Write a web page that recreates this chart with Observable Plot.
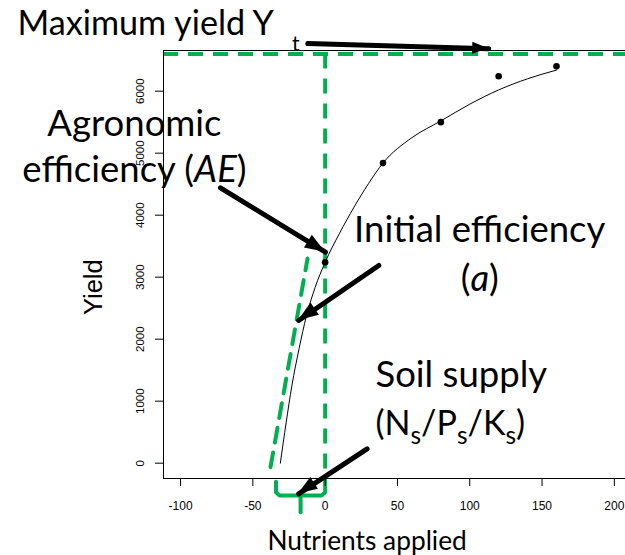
<!DOCTYPE html>
<html>
<head>
<meta charset="utf-8">
<script src="https://cdn.jsdelivr.net/npm/d3@7"></script>
<script src="https://cdn.jsdelivr.net/npm/@observablehq/plot@0.6"></script>
<style>
  html, body { margin: 0; padding: 0; background: #fff; }
  #chart { width: 625px; height: 555px; overflow: hidden; }
</style>
</head>
<body>
<div id="chart"></div>
<script>
// Observed yields at each nutrient rate
const rates = [0, 40, 80, 120, 160];
const yields = [3240, 4840, 5500, 6240, 6400];

// Fitted yield response curve
const fitRates = [-31, -27, -23, -18, -13, -7, 0, 10, 20, 30, 40, 60, 80, 100, 120, 140, 160];
const fitYields = [0, 650, 1250, 1850, 2370, 2830, 3240, 3710, 4130, 4510, 4840, 5250, 5520, 5790, 6020, 6200, 6340];

// Model quantities
const maxYield = 6600;        // Yt
const soilSupply = 34;        // Ns / Ps / Ks, in rate units
const aeRates = [-37.8, -12.2];   // agronomic efficiency guide line
const aeYields = [-65, 3300];

// Axis ticks
const xTicks = [-100, -50, 0, 50, 100, 150, 200];
const yTicks = [0, 1000, 2000, 3000, 4000, 5000, 6000];

// Call-out arrows (tail -> tip)
const arrowTailX = [-12.0, -72.4, 37.1, 29.0];
const arrowTailY = [6769, 4442, 3189, 232];
const arrowTipX = [113.1, 0.2, -18.3, -18.3];
const arrowTipY = [6684, 3403, 2302, -494];
const arrowHeadLength = [16, 20, 20, 19];
const arrowHeadWidth = [12, 15, 15, 14];

// Annotation labels
const labelText = [
  "Maximum yield Y_{t}",
  "Agronomic",
  "efficiency (*AE*)",
  "Initial efficiency",
  "(*a*)",
  "Soil supply",
  "(N_{s}/P_{s}/K_{s})"
];
const labelX = [-212.8, -131.9, -131.9, 106.9, 106.9, 34.8, 34.8];
const labelY = [6898, 5285, 4532, 3565, 2785, 1226, 447];
const labelAnchor = ["start", "middle", "middle", "middle", "middle", "start", "start"];
const labelSize = [34.2, 36.5, 36.5, 36.5, 36.5, 36.5, 34];

const green = "#00B050";
const annoFont = "Lato, 'Open Sans', sans-serif";

const points = rates.map((r, i) => ({rate: r, yield: yields[i]}));
const fit = fitRates.map((r, i) => ({rate: r, yield: fitYields[i]}));
const aeLine = aeRates.map((r, i) => ({rate: r, yield: aeYields[i]}));
const arrows = arrowTailX.map((_, i) => ({
  x1: arrowTailX[i], y1: arrowTailY[i], x2: arrowTipX[i], y2: arrowTipY[i],
  L: arrowHeadLength[i], W: arrowHeadWidth[i]
}));
const labels = labelText.map((t, i) => ({
  text: t, x: labelX[i], y: labelY[i], anchor: labelAnchor[i], size: labelSize[i]
}));

// Soil-supply brace below the axis
const brace = [
  {rate: -soilSupply, yield: -300, part: "arm"},
  {rate: -soilSupply, yield: -470, part: "arm"},
  {rate: -soilSupply + 2.5, yield: -520, part: "arm"},
  {rate: -2.5, yield: -520, part: "arm"},
  {rate: 0, yield: -470, part: "arm"},
  {rate: 0, yield: -300, part: "arm"},
  {rate: -soilSupply / 2, yield: -520, part: "tick"},
  {rate: -soilSupply / 2, yield: -790, part: "tick"}
];

const dashed = {stroke: green, strokeWidth: 4, strokeDasharray: "15,10"};
const plain = d => String(d);

const plot = Plot.plot({
  width: 640,
  height: 555,
  marginLeft: 163,
  marginRight: 0,
  marginTop: 50,
  marginBottom: 77,
  style: {
    fontFamily: "'Liberation Sans', Arial, sans-serif",
    fontSize: "11.5px",
    background: "white",
    maxWidth: "none"
  },
  x: {domain: [-111.8, 218.1], label: null},
  y: {domain: [-247, 6656], label: null},
  marks: [
    Plot.ruleY([maxYield], dashed),
    Plot.ruleX([0], {y1: maxYield, y2: -300, ...dashed}),
    Plot.line(aeLine, {x: "rate", y: "yield", ...dashed}),
    Plot.line(brace, {x: "rate", y: "yield", z: "part", stroke: green, strokeWidth: 4,
      strokeLinejoin: "round", strokeLinecap: "round"}),
    Plot.frame({stroke: "black"}),
    Plot.axisX({ticks: xTicks, tickFormat: plain, tickSize: 8, tickPadding: 15, fontSize: 12, label: null}),
    Plot.axisY({ticks: yTicks, tickFormat: plain, tickSize: 8, tickPadding: 12, tickRotate: -90,
      fontSize: 11.5, label: null}),
    Plot.line(fit, {x: "rate", y: "yield", curve: "monotone-x", stroke: "black", strokeWidth: 1}),
    Plot.dot(points, {x: "rate", y: "yield", r: 3.3, fill: "black", stroke: null}),
    Plot.text(["Yield"], {x: -154, y: 2839, rotate: -90, lineAnchor: "bottom", textAnchor: "middle",
      fontFamily: "'Liberation Sans', Arial, sans-serif", fontSize: 25.5, fill: "black"}),
    Plot.text(["Nutrients applied"], {x: 29.0, y: -1408, lineAnchor: "bottom", textAnchor: "middle",
      fontFamily: annoFont, fontSize: 26.3, fill: "black"}),
    ...labels.map(d => Plot.text([d], {x: "x", y: "y", text: "text", textAnchor: d.anchor,
      lineAnchor: "bottom", fontFamily: annoFont, fontSize: d.size, fill: "black"})),
    Plot.arrow(arrows, {x1: "x1", y1: "y1", x2: "x2", y2: "y2", stroke: "black", strokeWidth: 5,
      headLength: 0, insetEnd: d => d.L - 3})
  ]
});

// Filled arrow heads, placed through the plot's scales
const sx = plot.scale("x"), sy = plot.scale("y");
const heads = d3.select(plot).append("g").attr("aria-label", "arrow heads");
for (const a of arrows) {
  const tx = sx.apply(a.x2), ty = sy.apply(a.y2);
  const fx = sx.apply(a.x1), fy = sy.apply(a.y1);
  const len = Math.hypot(tx - fx, ty - fy);
  const ux = (tx - fx) / len, uy = (ty - fy) / len;
  const bx = tx - a.L * ux, by = ty - a.L * uy;
  const nx = -uy, ny = ux;
  heads.append("path")
    .attr("d", `M${tx},${ty}L${bx + nx * a.W / 2},${by + ny * a.W / 2}L${bx - nx * a.W / 2},${by - ny * a.W / 2}Z`)
    .attr("fill", "black");
}

// Subscripts (_{..}) and italics (*..*) in the labels
const subStyle = {
  "Maximum yield Y_{t}": {scale: 0.62, shift: 16, dx: 18},
  "(N_{s}/P_{s}/K_{s})": {scale: 0.72, shift: 9, dx: 0}
};
d3.select(plot).selectAll("text").each(function () {
  const src = this.textContent;
  if (!/_\{|\*/.test(src)) return;
  const label = labels.find(d => d.text === src);
  const size = label ? label.size : 32;
  const st = subStyle[src] || {scale: 0.7, shift: 8, dx: 0};
  const parts = src.split(/(_\{[^}]*\}|\*[^*]*\*)/).filter(p => p);
  this.textContent = "";
  let shifted = 0;
  for (const p of parts) {
    const t = d3.select(this).append("tspan");
    if (p.startsWith("_{")) {
      t.text(p.slice(2, -1)).attr("font-size", size * st.scale).attr("dy", st.shift - shifted).attr("dx", st.dx);
      shifted = st.shift;
    } else {
      if (shifted) { t.attr("dy", -shifted); shifted = 0; }
      if (p.startsWith("*")) t.text(p.slice(1, -1)).attr("font-style", "italic");
      else t.text(p);
    }
  }
});

document.getElementById("chart").append(plot);
</script>
</body>
</html>
